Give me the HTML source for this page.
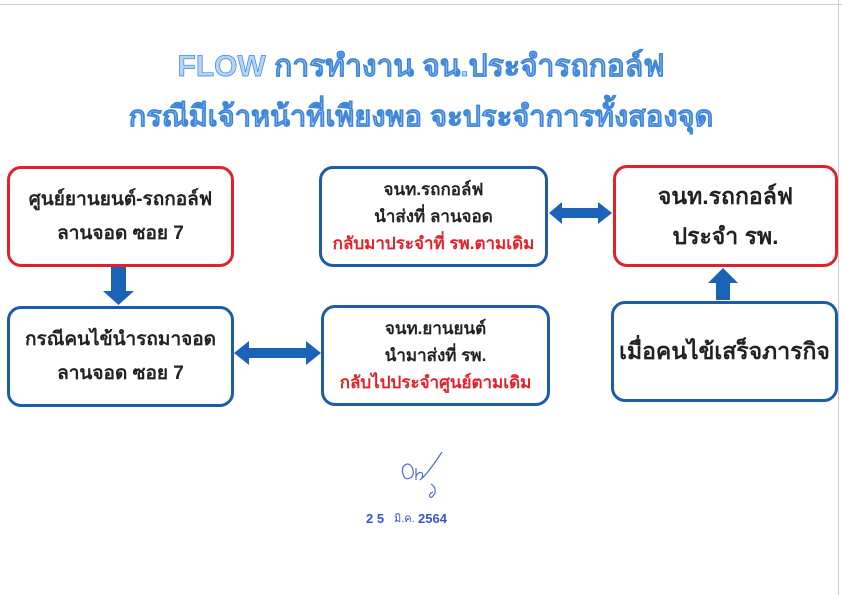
<!DOCTYPE html>
<html><head><meta charset="utf-8"><style>
body{margin:0;width:842px;height:595px;background:#fff;position:relative;overflow:hidden;font-family:"Liberation Sans","DejaVu Sans",sans-serif}
.b{position:absolute;box-sizing:border-box;border:3.5px solid #1d5ca8;border-radius:14px;background:#fff;display:flex;flex-direction:column;justify-content:center;align-items:center;text-align:center;font-weight:bold;color:#222;white-space:nowrap}
.r{border-color:#e2202e}
.t{position:absolute;left:0;width:842px;text-align:center;font-weight:bold;color:#b4d3f5;-webkit-text-stroke:0.7px #3d86dc;font-size:30px}
.red{color:#e8202a}
</style></head><body>
<div style="position:absolute;left:0;top:4px;width:842px;height:1px;background:#ccc"></div>
<div style="position:absolute;left:838px;top:0;width:1px;height:595px;background:#ccc"></div>
<div class="t" style="top:43px">FLOW การทำงาน จน.ประจำรถกอล์ฟ</div>
<div class="t" style="top:93px;font-size:29px">กรณีมีเจ้าหน้าที่เพียงพอ จะประจำการทั้งสองจุด</div>

<div class="b r" style="left:7px;top:166px;width:227px;height:101px;font-size:19px;line-height:34px">ศูนย์ยานยนต์-รถกอล์ฟ<br>ลานจอด ซอย 7</div>
<div class="b" style="left:7px;top:306px;width:227px;height:101px;font-size:19px;line-height:34px">กรณีคนไข้นำรถมาจอด<br>ลานจอด ซอย 7</div>
<div class="b" style="left:319px;top:166px;width:229px;height:101px;font-size:17px;line-height:27px">จนท.รถกอล์ฟ<br>นำส่งที่ ลานจอด<br><span class="red">กลับมาประจำที่ รพ.ตามเดิม</span></div>
<div class="b" style="left:321px;top:305px;width:229px;height:101px;font-size:17px;line-height:27px">จนท.ยานยนต์<br>นำมาส่งที่ รพ.<br><span class="red">กลับไปประจำศูนย์ตามเดิม</span></div>
<div class="b r" style="left:613px;top:165px;width:225px;height:102px;font-size:23px;line-height:40px">จนท.รถกอล์ฟ<br>ประจำ รพ.</div>
<div class="b" style="left:611px;top:301px;width:227px;height:101px;font-size:23px">เมื่อคนไข้เสร็จภารกิจ</div>

<svg width="842" height="595" style="position:absolute;left:0;top:0">
<g fill="#1a63b8">
<polygon points="111,267 126,267 126,291 134,291 118.5,305 103,291 111,291"/>
<polygon points="234,353 249,341 249,348 306,348 306,341 321,353 306,365 306,358 249,358 249,365"/>
<polygon points="549,213 562,202 562,208 598,208 598,202 612,213 598,224 598,218 562,218 562,224"/>
<polygon points="716,300 716,283 708,283 723,268 738,283 730,283 730,300"/>
</g>
<g fill="none" stroke="#4a6ad0" stroke-width="1.2">
<path d="M405,478 c-8,-12 5,-20 8,-8 c2,8 -6,10 -8,8 M416,468 l0,12 M416,476 c4,-6 8,-4 6,2 M420,480 c5,-4 10,-10 22,-28 M431,484 c4,2 6,8 2,12 c-3,4 -6,-2 0,-4"/>
</g>
<text x="366" y="523" font-family="Liberation Sans" font-size="13" font-weight="bold" fill="#3a55c8">2 5</text>
<text x="394" y="522" font-family="Liberation Sans" font-size="11" fill="#3a55c8">มิ.ค.</text>
<text x="418" y="523" font-family="Liberation Sans" font-size="13" font-weight="bold" fill="#3a55c8">2564</text>
</svg>
</body></html>
